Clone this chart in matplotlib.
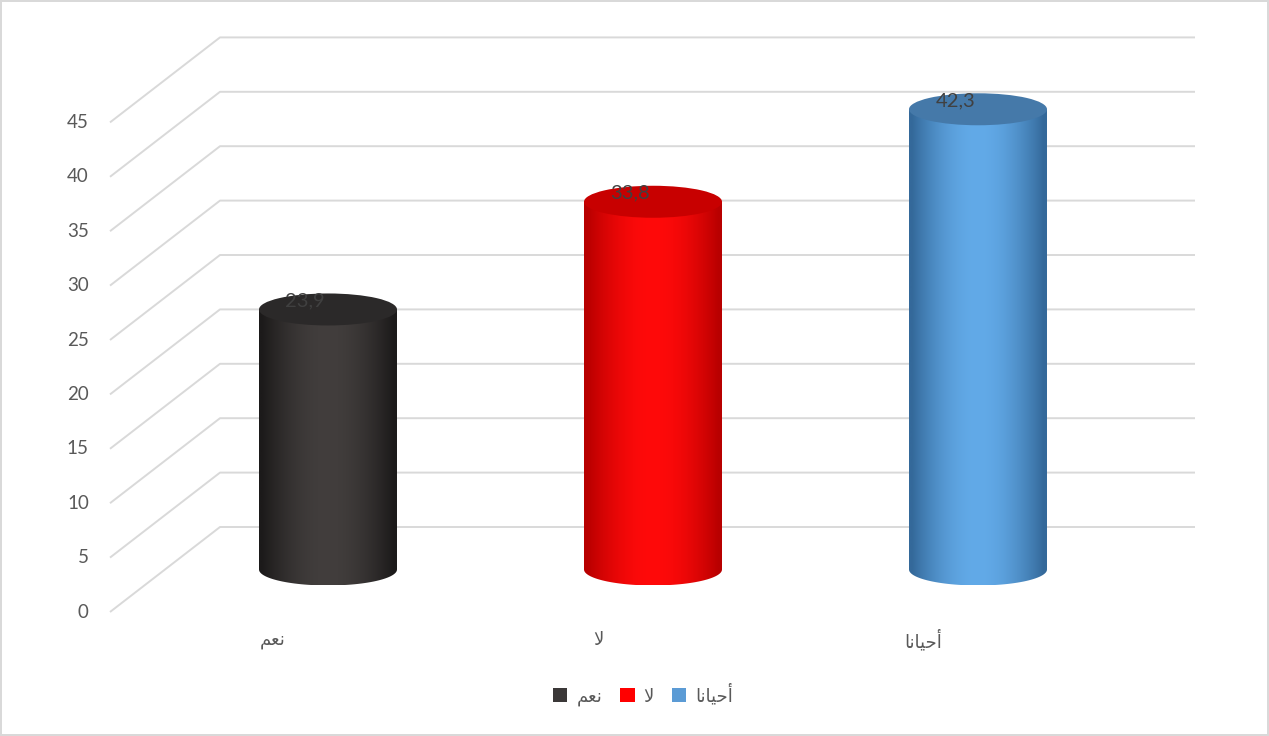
import numpy as np
import matplotlib.pyplot as plt
from matplotlib.colors import to_rgb
from matplotlib.patches import Ellipse, Patch, PathPatch
from matplotlib.path import Path

# data (Arabic written in presentation forms, visual order, since matplotlib has no shaping)
categories = ['\uFEE2\uFECC\uFEE7', '\uFEFB', '\uFE8E\uFEE7\uFE8E\uFEF4\uFEA3\uFE83']  # نعم / لا / أحيانا
values = [23.9, 33.8, 42.3]
value_labels = ['23,9', '33,8', '42,3']
yticks = [0, 5, 10, 15, 20, 25, 30, 35, 40, 45]

# colours: (edge of body, centre of body, top)
body_edge = ['#1c1a1a', '#b80000', '#34699a']
body_mid = ['#423e3d', '#ff0a0a', '#62aae8']
top_col = ['#2b2929', '#c80000', '#4579a9']

# oblique projection settings
px_cat = 325.0     # pixels per category
px_val = 10.88     # pixels per value unit
dx = 110 / px_cat  # depth shift in x (category units)
dy = 85 / px_val   # depth shift in y (value units)
half_w = 69 / px_cat
half_h = 16 / px_val

fig = plt.figure(figsize=(12.69, 7.36), dpi=100)
fig.patch.set_edgecolor('#d9d9d9')
fig.patch.set_linewidth(1.5)
ax = fig.add_axes([0, 0, 1, 1])
xlim = (-328 / px_cat, (1269 - 328) / px_cat)
ylim = (-(736 - 612) / px_val, 612 / px_val)
ax.axis('off')

x_front = (110 - 328) / px_cat
x_back_right = (1195 - 328) / px_cat
grid_col = '#d9d9d9'
for v in yticks:
    ax.plot([x_front, x_front + dx, x_back_right], [v, v + dy, v + dy],
            color=grid_col, lw=1.4, zorder=1, solid_capstyle='butt')
    ax.text(x_front - 0.065, v, str(v), ha='right', va='center',
            fontsize=13.5, color='#595959', family='Lato')

# cylinders at middle depth
for i, v in enumerate(values):
    cx = i
    base = dy / 2
    top = base + v
    # body path: rectangle plus lower half ellipse
    t = np.linspace(np.pi, 2 * np.pi, 60)
    bx = cx + half_w * np.cos(t)
    by = base + half_h * np.sin(t)
    verts = [(cx - half_w, top)] + list(zip(bx, by)) + [(cx + half_w, top), (cx - half_w, top)]
    codes = [Path.MOVETO] + [Path.LINETO] * (len(verts) - 2) + [Path.CLOSEPOLY]
    body = PathPatch(Path(verts, codes), facecolor='none', edgecolor='none')
    ax.add_patch(body)

    s = np.linspace(-1, 1, 200)
    w = np.clip(np.cos(s * np.pi / 2 * 1.05), 0, 1) ** 0.9
    c0 = np.array(to_rgb(body_edge[i]))
    c1 = np.array(to_rgb(body_mid[i]))
    grad = c0[None, :] + (c1 - c0)[None, :] * w[:, None]
    img = ax.imshow(grad[None, :, :], extent=[cx - half_w, cx + half_w, base - half_h, top],
                    aspect='auto', zorder=3, interpolation='bilinear')
    img.set_clip_path(body)

    ax.add_patch(Ellipse((cx, top), 2 * half_w, 2 * half_h, facecolor=top_col[i],
                         edgecolor='none', zorder=4))
    ax.text(cx - 0.07, top + 0.8, value_labels[i], ha='center', va='center',
            fontsize=14.5, color='#404040', family='Lato', zorder=5)

    # category label at the front
    ax.text(cx - dx / 2, -2.6, categories[i], ha='center', va='center',
            fontsize=13, color='#595959', family='DejaVu Sans')

ax.set_xlim(*xlim)
ax.set_ylim(*ylim)

handles = [Patch(facecolor=c, edgecolor='none') for c in ['#3b3838', '#ff0000', '#5b9bd5']]
fig.legend(handles, categories, loc='center', bbox_to_anchor=(643 / 1269, 1 - 695 / 736),
           ncol=3, frameon=False, handlelength=0.8, handleheight=0.8, handletextpad=0.5,
           columnspacing=1.0, prop={'family': 'DejaVu Sans', 'size': 13}, labelcolor='#595959')

fig.savefig('out.png', dpi=100)
